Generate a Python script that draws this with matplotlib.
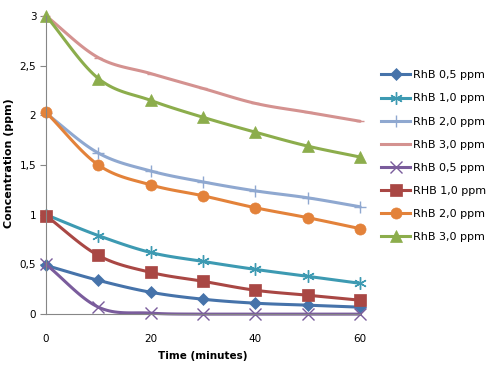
import numpy as np
import matplotlib
matplotlib.use('Agg')
import matplotlib.pyplot as plt

time = [0, 10, 20, 30, 40, 50, 60]

labels = ['RhB 0,5 ppm', 'RhB 1,0 ppm', 'RhB 2,0 ppm', 'RhB 3,0 ppm',
          'RhB 0,5 ppm', 'RHB 1,0 ppm', 'RhB 2,0 ppm', 'RhB 3,0 ppm']

rhb05_a = [0.49, 0.34, 0.22, 0.15, 0.11, 0.09, 0.07]
rhb10_a = [1.00, 0.79, 0.62, 0.53, 0.45, 0.38, 0.31]
rhb20_a = [2.02, 1.62, 1.44, 1.33, 1.24, 1.17, 1.08]
rhb30_a = [3.00, 2.58, 2.42, 2.27, 2.12, 2.03, 1.94]
rhb05_b = [0.50, 0.07, 0.01, 0.0, 0.0, 0.0, 0.0]
rhb10_b = [0.99, 0.59, 0.42, 0.33, 0.24, 0.19, 0.14]
rhb20_b = [2.03, 1.50, 1.30, 1.19, 1.07, 0.97, 0.86]
rhb30_b = [3.00, 2.37, 2.15, 1.98, 1.83, 1.69, 1.58]

series = [rhb05_a, rhb10_a, rhb20_a, rhb30_a, rhb05_b, rhb10_b, rhb20_b, rhb30_b]
colors = ['#4673AA', '#3D9AB2', '#8FA8D0', '#D49290',
          '#7A5C9C', '#A94744', '#E3823A', '#8CAD4C']
markers = ['D', (6, 2, 0), '+', '_', 'x', 's', 'o', '^']
msizes = [6, 9, 9, 6, 8, 8, 8, 8]


def smooth(x, y, n=20):
    # Catmull-Rom style smoothing, like Excel's "smoothed line"
    x = np.asarray(x, float)
    y = np.asarray(y, float)
    px = np.concatenate([[2 * x[0] - x[1]], x, [2 * x[-1] - x[-2]]])
    py = np.concatenate([[2 * y[0] - y[1]], y, [2 * y[-1] - y[-2]]])
    xs, ys = [], []
    t = np.linspace(0, 1, n)
    for i in range(1, len(px) - 2):
        p0x, p1x, p2x, p3x = px[i - 1:i + 3]
        p0y, p1y, p2y, p3y = py[i - 1:i + 3]
        c1x = p1x + (p2x - p0x) / 6
        c1y = p1y + (p2y - p0y) / 6
        c2x = p2x - (p3x - p1x) / 6
        c2y = p2y - (p3y - p1y) / 6
        bx = (1-t)**3*p1x + 3*(1-t)**2*t*c1x + 3*(1-t)*t**2*c2x + t**3*p2x
        by = (1-t)**3*p1y + 3*(1-t)**2*t*c1y + 3*(1-t)*t**2*c2y + t**3*p2y
        xs.extend(bx)
        ys.extend(by)
    return np.array(xs), np.clip(np.array(ys), 0, None)


fig = plt.figure(figsize=(4.9, 3.7), dpi=100)
ax = fig.add_axes([0.094, 0.151, 0.641, 0.806])

for vals, c, m, ms, lab in zip(series, colors, markers, msizes, labels):
    sx, sy = smooth(time, vals)
    ax.plot(sx, sy, color=c, lw=2.2, solid_capstyle='round', clip_on=False)
    mew = 1.0 if m in ('+', 'x', '_') or isinstance(m, tuple) else 0.5
    ax.plot(time, vals, ls='none', marker=m, ms=ms, color=c, mec=c,
            mew=mew, clip_on=False)
    ax.plot([], [], color=c, lw=2.2, marker=m, ms=ms, mec=c, mew=mew, label=lab)

ax.set_xlim(0, 60)
ax.set_ylim(0, 3)
ax.set_xticks([0, 20, 40, 60])
ax.set_yticks([0, 0.5, 1, 1.5, 2, 2.5, 3])
ax.set_yticklabels(['0', '0,5', '1', '1,5', '2', '2,5', '3'])
for s in ['top', 'right']:
    ax.spines[s].set_visible(False)
for s in ['left', 'bottom']:
    ax.spines[s].set_color('#868686')
ax.tick_params(axis='y', length=4, color='#868686', labelsize=7.5, pad=3)
ax.tick_params(axis='x', length=0, labelsize=7.5, pad=14)
ax.set_xlabel('Time (minutes)', fontsize=7.5, fontweight='bold')
ax.set_ylabel('Concentration (ppm)', fontsize=8, fontweight='bold')
ax.xaxis.set_label_coords(0.5, -0.125)
ax.yaxis.set_label_coords(-0.102, 0.507)

fig.legend(loc='upper left', bbox_to_anchor=(0.778, 0.81), frameon=False,
           fontsize=8, handlelength=2.6, labelspacing=1.18,
           handletextpad=0.3, borderaxespad=0, borderpad=0)

fig.savefig('out.png', dpi=100)
